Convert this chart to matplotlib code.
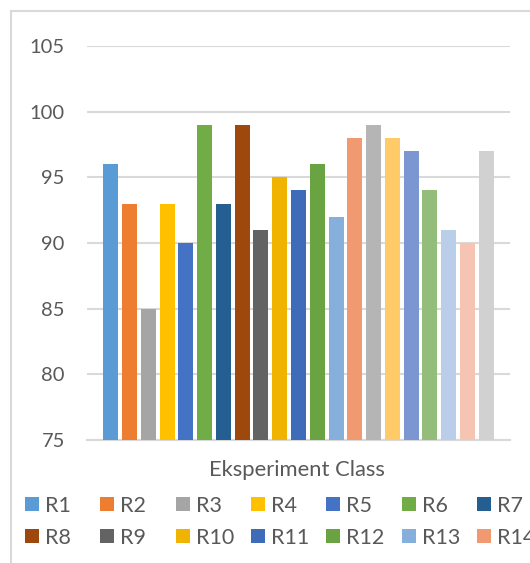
import matplotlib.pyplot as plt
from matplotlib.patches import Rectangle

plt.rcParams['font.family'] = ['Lato', 'DejaVu Sans']

series = ['R1', 'R2', 'R3', 'R4', 'R5', 'R6', 'R7', 'R8', 'R9', 'R10', 'R11',
          'R12', 'R13', 'R14', 'R15', 'R16', 'R17', 'R18', 'R19', 'R20', 'R21']
values = [96, 93, 85, 93, 90, 99, 93, 99, 91, 95, 94,
          96, 92, 98, 99, 98, 97, 94, 91, 90, 97]
colors = ['#5B9BD5', '#ED7D31', '#A5A5A5', '#FFC000', '#4472C4', '#70AD47', '#255E91',
          '#9E480E', '#636363', '#F0B400', '#3F6CB8', '#6AA342', '#87AFDC', '#F19A72',
          '#B5B5B5', '#FFCB69', '#7B96D0', '#94BC7B', '#BACEE9', '#F5C4B3', '#D1D1D1']
yticks = [75, 80, 85, 90, 95, 100, 105]

W, H = 530, 563
fig = plt.figure(figsize=(W / 100, H / 100), dpi=100)

# outer chart border (runs off the right and bottom edges)
fig.patches.append(Rectangle((11 / W, -0.1), 1.2, (H - 11) / H + 0.1,
                             transform=fig.transFigure, fill=False,
                             edgecolor='#D9D9D9', linewidth=1.5))

ax = fig.add_axes([87 / W, (H - 440) / H, (510 - 87) / W, (440 - 46) / H])
for i, (v, c) in enumerate(zip(values, colors)):
    ax.bar(i, v - 75, bottom=75, width=0.8, color=c, label=series[i], zorder=3)

ax.set_xlim(-1.26, len(values) - 1 + 1.26)
ax.set_ylim(75, 105)
ax.set_yticks(yticks)
ax.set_xticks([])
ax.tick_params(axis='y', length=0, pad=16, labelsize=14.5, labelcolor='#595959')
ax.grid(axis='y', color='#D9D9D9', linewidth=1.5, zorder=0)
for s in ['top', 'right', 'left']:
    ax.spines[s].set_visible(False)
ax.spines['bottom'].set_color('#D9D9D9')
ax.spines['bottom'].set_linewidth(1.5)

fig.text(297 / W, 1 - 470 / H, 'Eksperiment Class', ha='center', va='center',
         fontsize=15.8, color='#595959')

# legend, Excel style: 7 per row, rows beyond the second fall off the chart
for i, (s, c) in enumerate(zip(series[:14], colors[:14])):
    col, row = i % 7, i // 7
    x0 = 25 + col * 75.3
    yc = 504 + row * 32
    fig.patches.append(Rectangle((x0 / W, 1 - (yc + 7) / H), 14 / W, 14 / H,
                                 transform=fig.transFigure, facecolor=c,
                                 edgecolor='none'))
    fig.text((x0 + 20) / W, 1 - yc / H, s, ha='left', va='center_baseline',
             fontsize=15.5, color='#595959')

fig.savefig('out.png', dpi=100)
